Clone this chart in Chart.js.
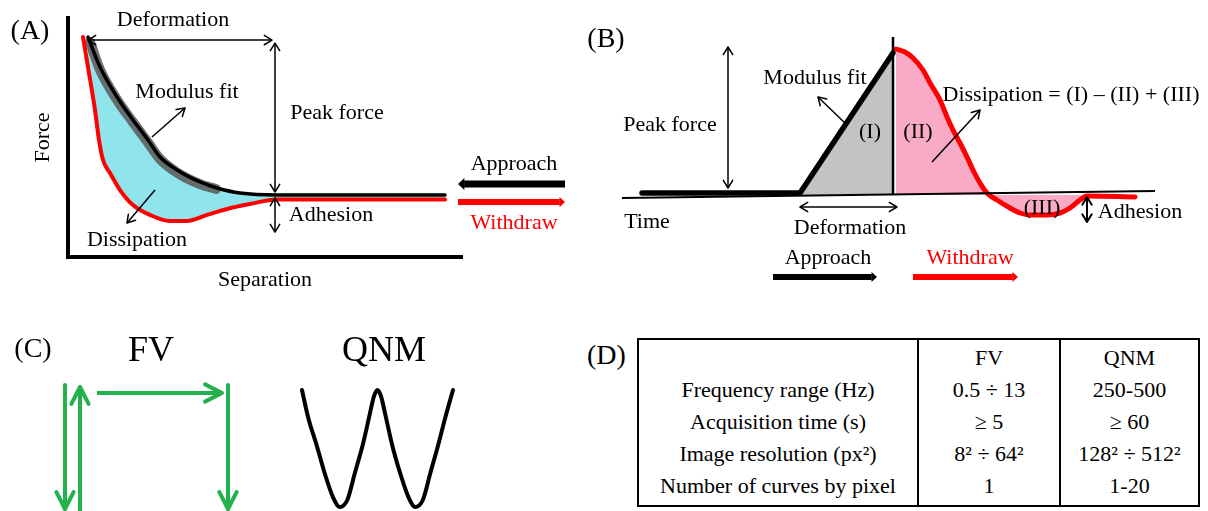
<!DOCTYPE html>
<html><head><meta charset="utf-8">
<script src="https://cdn.jsdelivr.net/npm/chart.js@4.4.1/dist/chart.umd.min.js"></script>
<style>
html,body{margin:0;padding:0;background:#fff;width:1208px;height:511px;overflow:hidden;position:relative;font-family:"Liberation Serif","Times New Roman",serif;color:#000;}
canvas{position:absolute;}
#cA{left:0;top:0;} #cB{left:580px;top:0;} #cFV{left:0;top:320px;} #cQ{left:270px;top:320px;}
#tagD{position:absolute;left:587px;top:340px;font-size:28px;line-height:30px;}
#tbl{position:absolute;left:637px;top:338px;width:563px;height:169px;box-sizing:border-box;border:2px solid #000;}
#tbl table{border-collapse:collapse;width:100%;font-size:22px;}
#tbl td{padding:0;text-align:center;line-height:32px;vertical-align:top;white-space:nowrap;}
#tbl td + td{border-left:2px solid #000;}
</style></head>
<body>
<canvas id="cA" width="580" height="300"></canvas>
<canvas id="cB" width="628" height="300"></canvas>
<canvas id="cFV" width="270" height="191"></canvas>
<canvas id="cQ" width="230" height="191"></canvas>
<div id="tagD">(D)</div>
<div id="tbl"><table id="dTable"><colgroup><col style="width:279px"><col style="width:142px"><col></colgroup><tbody></tbody></table></div>
<script>
// ---------- Panel A: force vs separation (arbitrary units) ----------
const sepApproach   = [0, 0.6, 1.45, 2.25, 3.0, 3.6, 4.45, 5.6, 6.45, 7.6, 9.45, 17.85];
const forceApproach = [10.53, 8.53, 6.53, 5.0, 3.67, 2.53, 1.67, 0.87, 0.47, 0.13, 0, 0];
const sepWithdraw   = [-0.25, 0, 0.35, 0.55, 0.75, 1.1, 1.6, 2.25, 3.1, 4.1, 4.95, 5.95, 6.95, 8.1, 9.45, 17.85];
const forceWithdraw = [10.53, 8.53, 5.67, 3.67, 2.33, 1.47, 0.33, -0.67, -1.33, -1.73, -1.73, -1.33, -0.93, -0.6, -0.3, -0.3];
const sepFit        = [0.1, 0.6, 1.45, 2.25, 3.0, 3.6, 4.45, 5.6, 6.4];
const forceFit      = [10.2, 8.35, 6.35, 4.85, 3.5, 2.4, 1.5, 0.72, 0.4];

// ---------- Panel B: force vs time ----------
const timeApproach   = [-15.8, 0, 9.3];
const forceApproachB = [0.2, 0.2, 14.2];
const timeWithdraw   = [9.6, 10.5, 11.3, 12.3, 13.0, 14.0, 14.7, 15.3, 16.0, 16.7, 17.3, 18.0, 18.7, 19.7, 21.0, 22.0, 23.0, 24.7, 26.0, 27.0, 28.0, 28.7, 33.5];
const forceWithdrawB = [14.6, 14.3, 13.7, 12.5, 11.2, 9.5, 7.8, 6.5, 5.2, 3.8, 2.5, 1.2, 0.2, -0.5, -1.3, -1.8, -2.0, -2.0, -1.8, -1.3, -0.5, -0.1, -0.2];

// ---------- Panel C: FV ramps and QNM oscillation ----------
const fvDown1X = [6.5, 6.5],   fvDown1Y = [12.6, 0.2];
const fvUpX    = [8.0, 8.0],   fvUpY    = [0.0, 12.4];
const fvMoveX  = [9.7, 22.2],  fvMoveY  = [11.8, 11.8];
const fvDown2X = [22.8, 22.8], fvDown2Y = [12.6, 0.2];
const qnmPhase  = [0, 0.08, 0.2, 0.3, 0.41, 0.5, 0.6, 0.7, 0.81, 0.9, 0.95, 1.0, 1.05, 1.1, 1.2, 1.3, 1.41, 1.5, 1.6, 1.7, 1.81, 1.9, 2.0];
const qnmHeight = [1.0, 0.54, 0.03, -0.42, -0.83, -1.0, -0.88, -0.42, 0.09, 0.6, 0.88, 1.0, 0.88, 0.6, 0.03, -0.42, -0.83, -1.0, -0.88, -0.42, 0.09, 0.54, 1.0];

// ---------- Panel D: table ----------
const tableColumns = ['', 'FV', 'QNM'];
const tableRows    = ['Frequency range (Hz)', 'Acquisition time (s)', 'Image resolution (px²)', 'Number of curves by pixel'];
const fvValues     = ['0.5 ÷ 13', '≥ 5', '8² ÷ 64²', '1'];
const qnmValues    = ['250-500', '≥ 60', '128² ÷ 512²', '1-20'];

// ---------- styles ----------
const SERIF = '"Liberation Serif", "Times New Roman", serif';
const RED = '#ff0000', GREEN = '#22b14c', CYAN = '#8fe5eb', GRAY = '#c3c3c3', PINK = '#f9aac6';

const pts = (xs, ys) => xs.map((x, i) => ({x, y: ys[i]}));

function head(ctx, fx, fy, tx, ty, o) {
  const ang = Math.atan2(ty - fy, tx - fx), L = o.size || 9, a = o.angle || 0.55;
  const p1 = [tx - L * Math.cos(ang - a), ty - L * Math.sin(ang - a)];
  const p2 = [tx - L * Math.cos(ang + a), ty - L * Math.sin(ang + a)];
  ctx.beginPath();
  if (o.filled) {
    ctx.moveTo(tx, ty); ctx.lineTo(p1[0], p1[1]); ctx.lineTo(p2[0], p2[1]); ctx.closePath(); ctx.fill();
  } else {
    ctx.moveTo(p1[0], p1[1]); ctx.lineTo(tx, ty); ctx.lineTo(p2[0], p2[1]); ctx.stroke();
  }
}

function annotator(cfg) {
  return {
    id: 'annot',
    afterDatasetsDraw(chart) {
      const ctx = chart.ctx, xs = chart.scales.x, ys = chart.scales.y;
      const X = v => xs.getPixelForValue(v), Y = v => ys.getPixelForValue(v);
      ctx.save();
      ctx.lineJoin = 'round';
      chart.data.datasets.forEach((ds, i) => {
        if (!ds.arrowHead) return;
        const el = chart.getDatasetMeta(i).data;
        const a = el[el.length - 2], b = el[el.length - 1];
        ctx.strokeStyle = ds.borderColor; ctx.fillStyle = ds.borderColor;
        ctx.lineWidth = ds.borderWidth; ctx.lineCap = 'round';
        head(ctx, a.x, a.y, b.x, b.y, ds.arrowHead);
      });
      (cfg.lines || []).forEach(l => {
        ctx.strokeStyle = l.color || '#000'; ctx.lineWidth = l.lw || 2; ctx.lineCap = 'butt';
        ctx.beginPath(); ctx.moveTo(X(l.from[0]), Y(l.from[1])); ctx.lineTo(X(l.to[0]), Y(l.to[1])); ctx.stroke();
      });
      (cfg.arrows || []).forEach(a => {
        const x1 = X(a.from[0]), y1 = Y(a.from[1]), x2 = X(a.to[0]), y2 = Y(a.to[1]);
        const col = a.color || '#000';
        ctx.strokeStyle = col; ctx.fillStyle = col; ctx.lineWidth = a.lw || 1.5;
        if (a.block) {
          const d = Math.hypot(x2 - x1, y2 - y1), ux = (x2 - x1) / d, uy = (y2 - y1) / d;
          const L = a.lw * 1.25;
          ctx.lineCap = 'butt';
          ctx.beginPath(); ctx.moveTo(x1, y1); ctx.lineTo(x2 - ux * L * 0.7, y2 - uy * L * 0.7); ctx.stroke();
          head(ctx, x1, y1, x2, y2, {size: L, angle: 0.75, filled: true});
        } else {
          ctx.lineCap = 'butt';
          ctx.beginPath(); ctx.moveTo(x1, y1); ctx.lineTo(x2, y2); ctx.stroke();
          ctx.lineCap = 'round';
          head(ctx, x1, y1, x2, y2, {size: a.size || 9, angle: 0.55});
          if (a.both) head(ctx, x2, y2, x1, y1, {size: a.size || 9, angle: 0.55});
        }
      });
      (cfg.labels || []).forEach(l => {
        ctx.font = (l.size || 22) + 'px ' + SERIF;
        ctx.fillStyle = l.color || '#000'; ctx.textAlign = 'center'; ctx.textBaseline = 'middle';
        ctx.fillText(l.text, X(l.at[0]), Y(l.at[1]));
      });
      ctx.restore();
    }
  };
}

function baseOptions(xr, yr) {
  return {
    responsive: false, animation: false, events: [],
    layout: {padding: 0, autoPadding: false},
    plugins: {legend: {display: false}, tooltip: {enabled: false},
              filler: {drawTime: 'beforeDatasetsDraw', propagate: false}},
    elements: {point: {radius: 0}, line: {borderJoinStyle: 'round', borderCapStyle: 'round'}},
    scales: {
      x: {type: 'linear', min: xr[0], max: xr[1], display: false},
      y: {type: 'linear', min: yr[0], max: yr[1], display: false}
    }
  };
}

// ---------- Chart A ----------
const optA = baseOptions([-1, 18.7], [-4.1333, 11.8]);
optA.layout.padding = {left: 0, top: 18, right: 118, bottom: 0};
const axisCommon = {ticks: {display: false}, grid: {display: false, drawTicks: false},
                    border: {display: true, color: '#000', width: 4}};
optA.scales.x = Object.assign({}, optA.scales.x, axisCommon, {display: true, position: 'bottom',
  title: {display: true, text: 'Separation', color: '#000', font: {family: SERIF, size: 22}, padding: {top: 0, bottom: 7}},
  afterFit: s => { s.height = 43; }});
optA.scales.y = Object.assign({}, optA.scales.y, axisCommon, {display: true, position: 'left',
  title: {display: true, text: 'Force', color: '#000', font: {family: SERIF, size: 22}, padding: {top: 30, bottom: 0}},
  afterFit: s => { s.width = 68; }});

new Chart(document.getElementById('cA'), {
  type: 'line',
  data: {datasets: [
    {label: 'Approach', data: pts(sepApproach, forceApproach), borderColor: '#000', borderWidth: 3.5,
     cubicInterpolationMode: 'monotone', fill: false, order: 1},
    {label: 'Withdraw', data: pts(sepWithdraw, forceWithdraw), borderColor: RED, borderWidth: 4,
     backgroundColor: CYAN, cubicInterpolationMode: 'monotone', fill: {target: 0, above: CYAN, below: CYAN}, order: 2},
    {label: 'Modulus fit', data: pts(sepFit, forceFit), borderColor: 'rgba(95,95,95,0.9)', borderWidth: 10,
     cubicInterpolationMode: 'monotone', fill: false, order: 3}
  ]},
  options: optA,
  plugins: [annotator({
    arrows: [
      {from: [0, 10.33], to: [9.2, 10.33], both: true},
      {from: [9.35, 10.13], to: [9.35, 0.2], both: true},
      {from: [9.35, -0.2], to: [9.35, -2.47], both: true},
      {from: [3.2, 3.87], to: [4.85, 5.8]},
      {from: [3.35, 0.33], to: [1.95, -1.87]},
      {from: [23.85, 0.73], to: [18.5, 0.73], block: true, lw: 7},
      {from: [18.5, -0.47], to: [23.85, -0.47], block: true, lw: 6, color: RED}
    ],
    labels: [
      {text: '(A)', at: [-2.9, 10.87], size: 28},
      {text: 'Deformation', at: [4.25, 11.67]},
      {text: 'Modulus fit', at: [4.95, 6.87]},
      {text: 'Peak force', at: [12.45, 5.47]},
      {text: 'Adhesion', at: [12.15, -1.33]},
      {text: 'Dissipation', at: [2.45, -3.0]},
      {text: 'Approach', at: [21.3, 2.07]},
      {text: 'Withdraw', at: [21.3, -1.87], color: RED}
    ]
  })]
});

// ---------- Chart B ----------
new Chart(document.getElementById('cB'), {
  type: 'line',
  data: {datasets: [
    {label: 'Approach', data: pts(timeApproach, forceApproachB), borderColor: '#000', borderWidth: 5.5,
     backgroundColor: GRAY, fill: {target: 'origin', above: GRAY, below: GRAY}, order: 1},
    {label: 'Withdraw', data: pts(timeWithdraw, forceWithdrawB), borderColor: RED, borderWidth: 5,
     backgroundColor: PINK, cubicInterpolationMode: 'monotone', fill: {target: 'origin', above: PINK, below: PINK}, order: 2}
  ]},
  options: baseOptions([-22, 40.8], [-10.5, 19.5]),
  plugins: [annotator({
    lines: [
      {from: [-17.8, -0.3], to: [35.5, 0.4], lw: 2},
      {from: [9.3, 15.8], to: [9.3, 0], lw: 2.5}
    ],
    arrows: [
      {from: [-7.2, 14.8], to: [-7.2, 0.7], both: true},
      {from: [4.7, 7.0], to: [1.8, 9.8]},
      {from: [13.2, 3.3], to: [18.0, 8.5]},
      {from: [28.7, -0.2], to: [28.7, -2.7], both: true, lw: 2},
      {from: [0, -1.2], to: [9.7, -1.2], both: true},
      {from: [-2.7, -8.2], to: [7.7, -8.2], block: true, lw: 6},
      {from: [11.3, -8.2], to: [21.8, -8.2], block: true, lw: 6, color: RED}
    ],
    labels: [
      {text: '(B)', at: [-19.4, 15.5], size: 28},
      {text: 'Peak force', at: [-13.0, 7.0]},
      {text: 'Modulus fit', at: [1.5, 11.7]},
      {text: '(I)', at: [7.0, 6.3]},
      {text: '(II)', at: [11.8, 6.3]},
      {text: 'Dissipation = (I) \u2013 (II) + (III)', at: [27.1, 10.0]},
      {text: '(III)', at: [24.2, -1.3]},
      {text: 'Adhesion', at: [34.0, -1.7]},
      {text: 'Time', at: [-15.3, -2.7]},
      {text: 'Deformation', at: [5.0, -3.3]},
      {text: 'Approach', at: [2.8, -6.3]},
      {text: 'Withdraw', at: [17.0, -6.3], color: RED}
    ]
  })]
});

// ---------- Chart C: FV ----------
const fvStyle = {borderColor: GREEN, borderWidth: 4, borderCapStyle: 'butt', fill: false,
                 arrowHead: {size: 19, angle: 0.47}};
new Chart(document.getElementById('cFV'), {
  type: 'line',
  data: {datasets: [
    Object.assign({label: 'down 1', data: pts(fvDown1X, fvDown1Y)}, fvStyle),
    Object.assign({label: 'up', data: pts(fvUpX, fvUpY)}, fvStyle),
    Object.assign({label: 'move', data: pts(fvMoveX, fvMoveY)}, fvStyle),
    Object.assign({label: 'down 2', data: pts(fvDown2X, fvDown2Y)}, fvStyle)
  ]},
  options: baseOptions([0, 27], [0, 19.1]),
  plugins: [annotator({labels: [
    {text: '(C)', at: [3.3, 16.1], size: 28},
    {text: 'FV', at: [15.1, 15.9], size: 36}
  ]})]
});

// ---------- Chart C: QNM ----------
new Chart(document.getElementById('cQ'), {
  type: 'line',
  data: {datasets: [
    {label: 'QNM', data: pts(qnmPhase, qnmHeight), borderColor: '#000', borderWidth: 4,
     cubicInterpolationMode: 'monotone', fill: false}
  ]},
  options: baseOptions([-0.4238, 2.6225], [-1.0684, 2.1966]),
  plugins: [annotator({labels: [{text: 'QNM', at: [1.086, 1.65], size: 36}]})]
});

// ---------- Table D ----------
(function () {
  const tb = document.querySelector('#dTable tbody');
  const mk = (cells, h, pad) => {
    const tr = document.createElement('tr');
    cells.forEach(c => {
      const td = document.createElement('td');
      td.textContent = c; td.style.height = h + 'px';
      if (pad) td.style.paddingTop = pad + 'px';
      tr.appendChild(td);
    });
    tb.appendChild(tr);
  };
  mk(tableColumns, 32, 2);
  tableRows.forEach((r, i) => mk([r, fvValues[i], qnmValues[i]], i === tableRows.length - 1 ? 35 : 32, 0));
})();
</script>
</body></html>
